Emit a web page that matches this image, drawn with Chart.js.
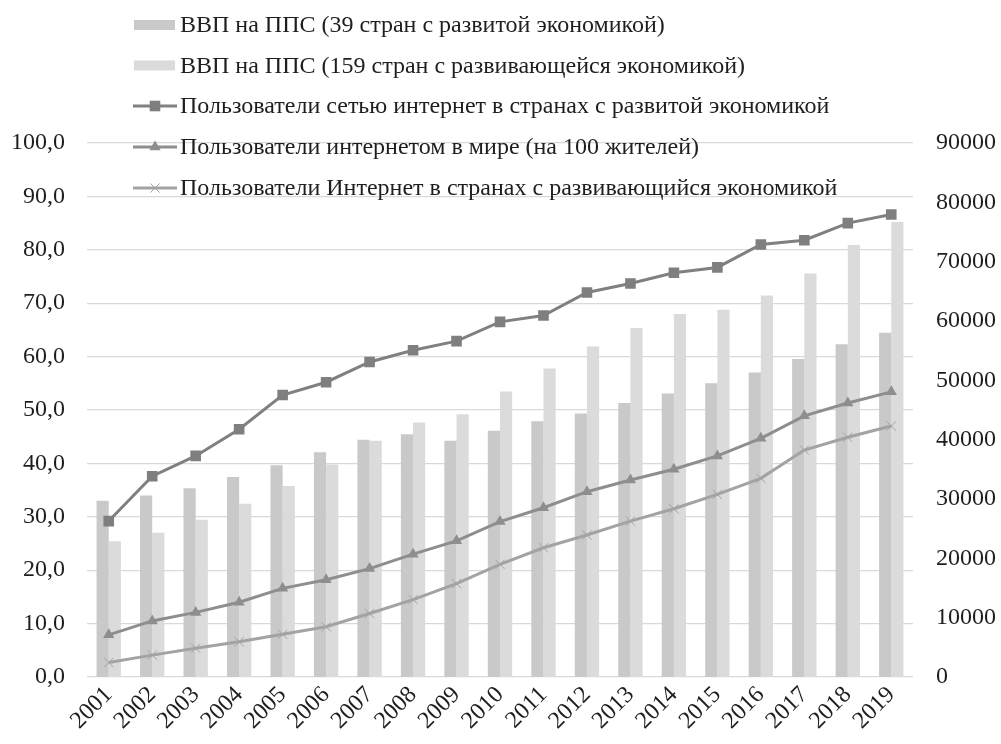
<!DOCTYPE html>
<html>
<head>
<meta charset="utf-8">
<script src="https://cdn.jsdelivr.net/npm/chart.js@4.4.1/dist/chart.umd.min.js"></script>
<style>
  html, body { margin: 0; padding: 0; background: #ffffff; }
  #wrap { width: 1001px; height: 744px; }
</style>
</head>
<body>
<div id="wrap"><canvas id="c" width="1001" height="744"></canvas></div>
<script>
const categories = ['2001','2002','2003','2004','2005','2006','2007','2008','2009','2010','2011','2012','2013','2014','2015','2016','2017','2018','2019'];
const gdpDeveloped = [29700, 30600, 31800, 33700, 35700, 37900, 40000, 40900, 39800, 41500, 43100, 44400, 46200, 47800, 49500, 51300, 53600, 56100, 58000];
const gdpDeveloping = [22900, 24300, 26500, 29200, 32200, 35800, 39800, 42900, 44300, 48100, 52000, 55700, 58800, 61200, 61900, 64300, 68000, 72800, 76700];
const usersDeveloped = [29.2, 37.6, 41.4, 46.4, 52.8, 55.2, 59.0, 61.2, 62.9, 66.5, 67.7, 72.0, 73.7, 75.7, 76.7, 81.0, 81.8, 85.0, 86.6];
const usersWorld = [7.9, 10.5, 12.1, 14.0, 16.6, 18.2, 20.3, 23.0, 25.5, 29.1, 31.7, 34.7, 36.9, 38.9, 41.4, 44.7, 48.9, 51.3, 53.4];
const usersDeveloping = [2.7, 4.1, 5.4, 6.6, 8.0, 9.4, 11.9, 14.5, 17.5, 21.1, 24.2, 26.6, 29.2, 31.5, 34.2, 37.2, 42.5, 44.9, 47.0];
const seriesNames = [
  'ВВП на ППС (39 стран с развитой экономикой)',
  'ВВП на ППС (159 стран с развивающейся экономикой)',
  'Пользователи сетью интернет в странах с развитой экономикой',
  'Пользователи интернетом в мире (на 100 жителей)',
  'Пользователи Интернет в странах с развивающийся экономикой'
];
const leftAxisMax = 100, leftAxisStep = 10;
const rightAxisMax = 90000, rightAxisStep = 10000;

const FONT = '"Liberation Serif", "Times New Roman", serif';
const TEXT = '#1e1e1e';

const legendPlugin = {
  id: 'customLegend',
  afterDraw(chart) {
    const ctx = chart.ctx;
    const x0 = 133, x1 = 177, tx = 180;
    const rows = [25, 65.5, 106, 147, 188];
    ctx.save();
    chart.data.datasets.forEach((ds, i) => {
      const y = rows[i];
      if (ds.type === 'bar') {
        ctx.fillStyle = ds.backgroundColor;
        ctx.fillRect(x0 + 1, y - 5, x1 - x0 - 3, 10);
      } else {
        ctx.strokeStyle = ds.borderColor;
        ctx.lineWidth = ds.borderWidth;
        ctx.beginPath();
        ctx.moveTo(x0, y);
        ctx.lineTo(x1, y);
        ctx.stroke();
        ctx.fillStyle = ds.pointBackgroundColor;
        ctx.strokeStyle = ds.pointBorderColor;
        ctx.lineWidth = ds.pointBorderWidth;
        Chart.helpers.drawPoint(ctx, {
          pointStyle: ds.pointStyle,
          radius: ds.pointRadius,
          borderWidth: ds.pointBorderWidth,
          rotation: 0
        }, (x0 + x1) / 2, y);
      }
      ctx.fillStyle = TEXT;
      ctx.font = '24px ' + FONT;
      ctx.textBaseline = 'middle';
      ctx.textAlign = 'left';
      ctx.fillText(ds.label, tx, y + 1);
    });
    ctx.restore();
  }
};

function build() {
  const ctx = document.getElementById('c').getContext('2d');
  new Chart(ctx, {
    data: {
      labels: categories,
      datasets: [
        {
          type: 'bar', label: seriesNames[0], data: gdpDeveloped, yAxisID: 'yR',
          backgroundColor: '#c9c9c9', barPercentage: 1.0, categoryPercentage: 0.56, order: 2
        },
        {
          type: 'bar', label: seriesNames[1], data: gdpDeveloping, yAxisID: 'yR',
          backgroundColor: '#dbdbdb', barPercentage: 1.0, categoryPercentage: 0.56, order: 2
        },
        {
          type: 'line', label: seriesNames[2], data: usersDeveloped, yAxisID: 'yL',
          borderColor: '#808080', borderWidth: 3, pointStyle: 'rect', pointRadius: 7.5,
          pointBackgroundColor: '#7f7f7f', pointBorderColor: '#7f7f7f', pointBorderWidth: 0,
          tension: 0, order: 1
        },
        {
          type: 'line', label: seriesNames[3], data: usersWorld, yAxisID: 'yL',
          borderColor: '#8e8e8e', borderWidth: 3, pointStyle: 'triangle', pointRadius: 6.5,
          pointBackgroundColor: '#8e8e8e', pointBorderColor: '#8e8e8e', pointBorderWidth: 0,
          tension: 0, order: 1
        },
        {
          type: 'line', label: seriesNames[4], data: usersDeveloping, yAxisID: 'yL',
          borderColor: '#a3a3a3', borderWidth: 3, pointStyle: 'crossRot', pointRadius: 6.5,
          pointBackgroundColor: '#a3a3a3', pointBorderColor: '#a3a3a3', pointBorderWidth: 1,
          tension: 0, order: 1
        }
      ]
    },
    options: {
      responsive: false,
      animation: false,
      layout: { padding: { top: 143, left: 0, right: 0, bottom: 0 } },
      plugins: { legend: { display: false }, tooltip: { enabled: false } },
      scales: {
        x: {
          type: 'category',
          grid: { display: false, drawTicks: false },
          border: { display: false },
          ticks: {
            color: TEXT, font: { family: FONT, size: 24 },
            minRotation: 45, maxRotation: 45, padding: 4, autoSkip: false
          },
          afterFit(s) { s.height = 67; }
        },
        yL: {
          type: 'linear', position: 'left', min: 0, max: leftAxisMax,
          grid: { color: '#d9d9d9', lineWidth: 1.3, drawTicks: false },
          border: { display: false },
          ticks: {
            stepSize: leftAxisStep, color: TEXT, font: { family: FONT, size: 24 }, padding: 22,
            callback: v => v.toFixed(1).replace('.', ',')
          },
          afterFit(s) { s.width = 87; }
        },
        yR: {
          type: 'linear', position: 'right', min: 0, max: rightAxisMax,
          grid: { display: false, drawTicks: false },
          border: { display: false },
          ticks: {
            stepSize: rightAxisStep, color: TEXT, font: { family: FONT, size: 24 }, padding: 23,
            callback: v => String(v)
          },
          afterFit(s) { s.width = 88; }
        }
      }
    },
    plugins: [legendPlugin]
  });
}

Promise.all([
  document.fonts.load('24px "Liberation Serif"', 'ВВП 2001'),
]).then(build, build);
</script>
</body>
</html>
